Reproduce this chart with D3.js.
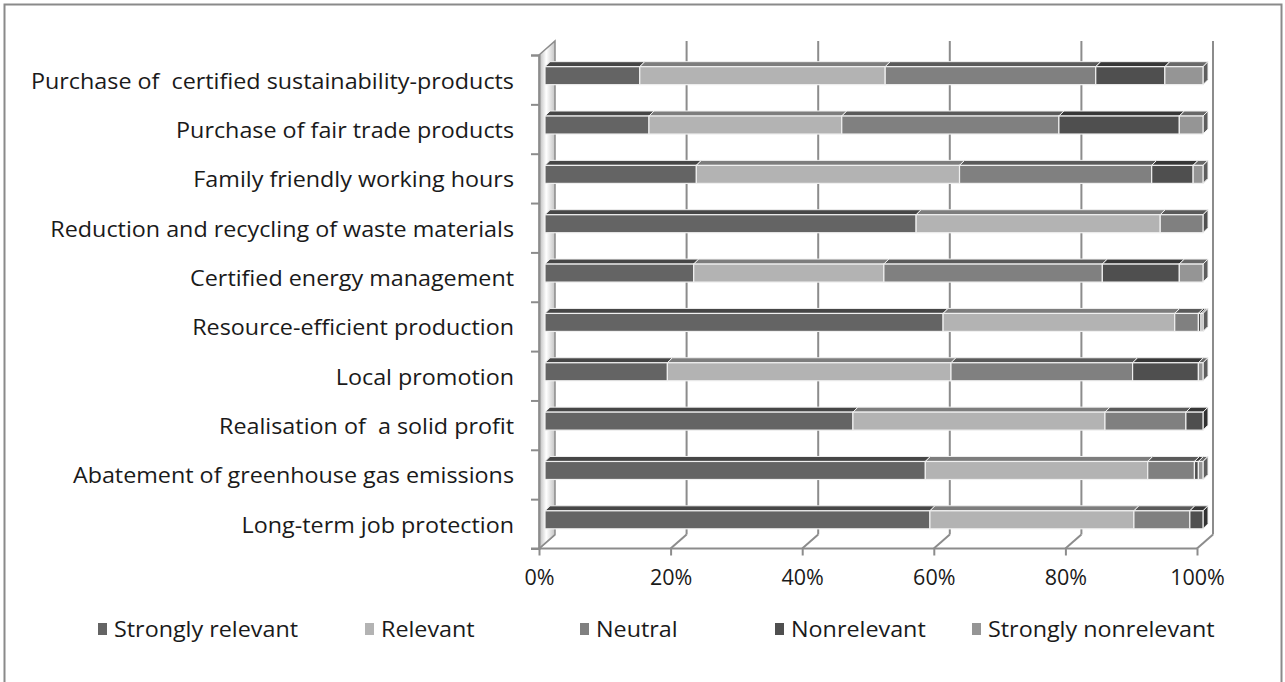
<!DOCTYPE html>
<html>
<head>
<meta charset="utf-8">
<script src="https://cdnjs.cloudflare.com/ajax/libs/d3/7.8.5/d3.min.js"></script>
<style>
  body { margin: 0; background: #fff; }
  text { font-family: "Open Sans", Lato, sans-serif; fill: #1a1a1a; white-space: pre; }
</style>
</head>
<body>
<svg id="chart" width="1285" height="682"></svg>
<script>
// categories, top to bottom as drawn
var categories = [
  "Purchase of  certified sustainability-products",
  "Purchase of fair trade products",
  "Family friendly working hours",
  "Reduction and recycling of waste materials",
  "Certified energy management",
  "Resource-efficient production",
  "Local promotion",
  "Realisation of  a solid profit",
  "Abatement of greenhouse gas emissions",
  "Long-term job protection"
];

var seriesNames = ["Strongly relevant", "Relevant", "Neutral", "Nonrelevant", "Strongly nonrelevant"];

// shares in percent
var stronglyRelevant    = [14.4, 15.8, 23.0, 56.4, 22.6, 60.5, 18.6, 46.8, 57.8, 58.5];
var relevant            = [37.3, 29.3, 40.0, 37.1, 28.9, 35.2, 43.1, 38.3, 33.8, 31.0];
var neutral             = [32.0, 33.0, 29.2,  6.5, 33.2,  3.6, 27.6, 12.3,  7.1,  8.5];
var nonrelevant         = [10.5, 18.3,  6.3,  0.0, 11.7,  0.4, 10.0,  2.6,  0.6,  2.0];
var stronglyNonrelevant = [ 5.8,  3.6,  1.5,  0.0,  3.6,  0.3,  0.7,  0.0,  0.7,  0.0];

var xTicks = [0, 0.2, 0.4, 0.6, 0.8, 1];

var colors = ["#646464", "#b3b3b3", "#808080", "#4f4f4f", "#959595"];

var fontSize = "21.5px";
var stretch = 1.085; // the source font runs a bit wider than Open Sans

var svg = d3.select("#chart");

// outer frame
svg.append("rect")
  .attr("x", 4.5).attr("y", 4.5)
  .attr("width", 1277).attr("height", 700)
  .attr("fill", "none")
  .attr("stroke", "#8a8a8a")
  .attr("stroke-width", 2);

// front plane of the 3d box
var x = d3.scaleLinear().domain([0, 1]).range([539, 1197]);
var yTop = 55, yBot = 548.5;
var y = d3.scaleBand().domain(categories).range([yTop, yBot]);
var wall = { dx: 16, dy: -14 };      // depth of the back wall
var barOff = { dx: 6, dy: -4 };      // where bars sit inside the box
var barDepth = { dx: 5, dy: -5 };
var barH = 18;
var gridColor = "#8c8c8c";

// gradient for the left wall
var defs = svg.append("defs");
var grad = defs.append("linearGradient").attr("id", "wallGrad")
  .attr("x1", "0%").attr("x2", "100%").attr("y1", "0%").attr("y2", "0%");
grad.append("stop").attr("offset", "0%").attr("stop-color", "#b8b8b8");
grad.append("stop").attr("offset", "45%").attr("stop-color", "#ffffff");
grad.append("stop").attr("offset", "100%").attr("stop-color", "#c4c4c4");

// back wall gridlines + right edge
svg.append("g").selectAll("line")
  .data(xTicks.slice(1))
  .enter().append("line")
  .attr("x1", function(d) { return x(d) + wall.dx; })
  .attr("x2", function(d) { return x(d) + wall.dx; })
  .attr("y1", yTop + wall.dy)
  .attr("y2", yBot + wall.dy)
  .attr("stroke", gridColor)
  .attr("stroke-width", 2);

// floor depth lines
svg.append("g").selectAll("line")
  .data(xTicks)
  .enter().append("line")
  .attr("x1", function(d) { return x(d); })
  .attr("y1", yBot)
  .attr("x2", function(d) { return x(d) + wall.dx; })
  .attr("y2", yBot + wall.dy)
  .attr("stroke", gridColor)
  .attr("stroke-width", 2);

// left wall
var x0 = x(0);
svg.append("path")
  .attr("d", "M" + x0 + "," + yTop +
    "L" + (x0 + wall.dx) + "," + (yTop + wall.dy) +
    "L" + (x0 + wall.dx) + "," + (yBot + wall.dy) +
    "L" + x0 + "," + yBot + "Z")
  .attr("fill", "url(#wallGrad)")
  .attr("stroke", gridColor)
  .attr("stroke-width", 1.5);

// stacked data
var rows = categories.map(function(c, i) {
  var vals = [stronglyRelevant[i], relevant[i], neutral[i], nonrelevant[i], stronglyNonrelevant[i]];
  var total = d3.sum(vals);
  var acc = 0;
  var segs = [];
  vals.forEach(function(v, k) {
    if (v > 0) segs.push({ k: k, a: acc / total, b: (acc + v) / total });
    acc += v;
  });
  return { cat: c, segs: segs };
});

var bars = svg.append("g").attr("class", "bars");
rows.forEach(function(r) {
  var fy = y(r.cat) + y.bandwidth() / 2 + barOff.dy - barH / 2;
  var g = bars.append("g");
  r.segs.forEach(function(s, j) {
    var xa = x(s.a) + barOff.dx, xb = x(s.b) + barOff.dx;
    var c = d3.color(colors[s.k]);
    // top face
    g.append("path")
      .attr("d", "M" + xa + "," + fy + "L" + xb + "," + fy +
        "L" + (xb + barDepth.dx) + "," + (fy + barDepth.dy) +
        "L" + (xa + barDepth.dx) + "," + (fy + barDepth.dy) + "Z")
      .attr("fill", c.darker(1).formatHex())
      .attr("stroke", "#f0f0f0")
      .attr("stroke-width", 1);
    // right face only on the last piece
    if (j === r.segs.length - 1) {
      g.append("path")
        .attr("d", "M" + xb + "," + fy + "L" + (xb + barDepth.dx) + "," + (fy + barDepth.dy) +
          "L" + (xb + barDepth.dx) + "," + (fy + barDepth.dy + barH) +
          "L" + xb + "," + (fy + barH) + "Z")
        .attr("fill", c.darker(1.3).formatHex())
        .attr("stroke", "#f0f0f0")
        .attr("stroke-width", 1);
    }
    // front face
    g.append("rect")
      .attr("x", xa).attr("y", fy)
      .attr("width", Math.max(0, xb - xa)).attr("height", barH)
      .attr("fill", colors[s.k])
      .attr("stroke", "#f0f0f0")
      .attr("stroke-width", 1.2);
  });
});

// vertical axis: boundary ticks
var yIdx = d3.scaleLinear().domain([0, categories.length]).range([yTop, yBot]);
var yAxis = svg.append("g")
  .attr("transform", "translate(" + x0 + ",0)")
  .call(d3.axisLeft(yIdx).tickValues(d3.range(categories.length + 1)).tickSize(8).tickFormat(""));
yAxis.selectAll("path, line").attr("stroke", gridColor).attr("stroke-width", 2);

// category labels
svg.append("g")
  .attr("transform", "translate(514,2) scale(" + stretch + ",1)")
  .call(d3.axisLeft(y).tickSize(0).tickPadding(0))
  .call(function(g) { g.select(".domain").remove(); })
  .selectAll("text")
  .style("font-size", fontSize)
  .style("font-family", "'Open Sans', sans-serif")
  .attr("fill", "#1a1a1a");

// horizontal axis
var xAxis = svg.append("g")
  .attr("transform", "translate(0," + yBot + ")")
  .call(d3.axisBottom(x).tickValues(xTicks).tickFormat(d3.format(".0%")).tickSize(7).tickPadding(14));
xAxis.selectAll("path, line").attr("stroke", gridColor).attr("stroke-width", 2);
xAxis.select(".domain").attr("d", "M" + (x0 - 8) + ",0H" + x(1));
xAxis.selectAll("text")
  .style("font-size", fontSize)
  .style("font-family", "'Open Sans', sans-serif")
  .attr("fill", "#1a1a1a");

// legend
var legendX = [114, 381, 596, 791, 988];
var legend = svg.append("g").attr("transform", "translate(0,629)");
seriesNames.forEach(function(name, k) {
  legend.append("rect")
    .attr("x", legendX[k] - 16).attr("y", -6)
    .attr("width", 9).attr("height", 12)
    .attr("fill", colors[k]);
  legend.append("text")
    .attr("transform", "translate(" + legendX[k] + ",0) scale(" + stretch + ",1)")
    .attr("dy", "0.35em")
    .style("font-size", fontSize)
    .text(name);
});
</script>
</body>
</html>
